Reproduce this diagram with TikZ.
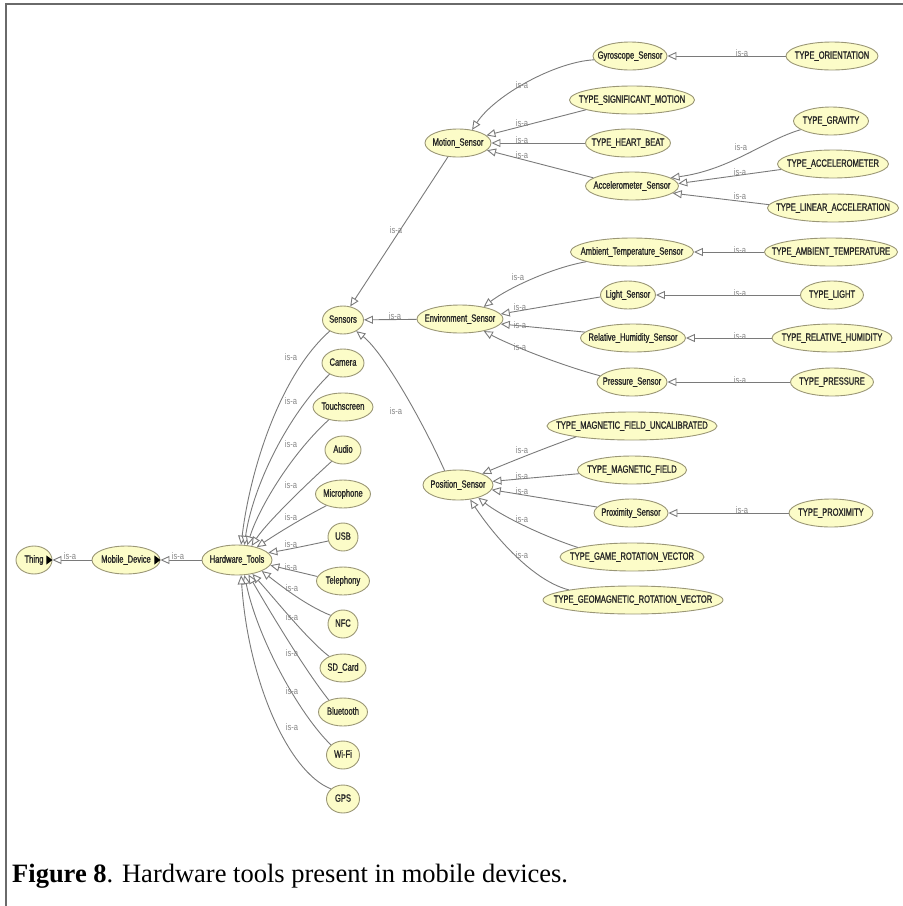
\documentclass[tikz,border=0pt]{standalone}
\usepackage{fontspec}
\usetikzlibrary{shapes.geometric,arrows.meta}
\setmainfont{Liberation Serif}
\newfontfamily\ndfont[FakeStretch=0.72,FakeBold=1.2]{Liberation Sans}
\newfontfamily\lbfont[FakeStretch=0.8]{Liberation Sans}
\definecolor{ndfill}{HTML}{FCFCC8}
\definecolor{ndline}{HTML}{9A9676}
\definecolor{edgec}{HTML}{7A7A7A}
\definecolor{lblc}{HTML}{858585}
\definecolor{framec}{HTML}{6A6A6A}
\tikzset{
  cls/.style={ellipse, draw=ndline, fill=ndfill, line width=0.9pt, inner sep=0pt,
    minimum height=28pt, text height=7.7pt, text depth=2.3pt,
    font=\ndfont\fontsize{10.5}{12}\selectfont, text=black!85},
  isa/.style={draw=edgec, line width=0.9pt,
    -{Triangle[open, length=9pt, width=8pt, fill=white]}},
  lbl/.style={font=\lbfont\fontsize{9.5}{10}\selectfont, text=lblc, inner sep=0pt},
}
% class node: name, centre, width, text
\newcommand\cnode[5][]{\node[cls, minimum width=#4pt, #1] (#2) at (#3) {\makebox[0pt]{#5}};}
\begin{document}
\begin{tikzpicture}[x=1pt, y=-1pt]
\useasboundingbox (0,0) rectangle (903,906);
% frame
\draw[framec, line width=2pt] (5.5,906) -- (5.5,4) -- (903,4);

% ---- classes ----
\cnode{thing}{34,560}{36}{Thing}
\cnode{mobile}{126,560}{68}{Mobile\_Device}
\cnode[minimum height=30pt]{ht}{237,560}{70}{Hardware\_Tools}

\cnode{sensors}{343,320}{41}{Sensors}
\cnode{camera}{343,363}{42}{Camera}
\cnode{touch}{343,407}{60}{Touchscreen}
\cnode{audio}{343,450}{36}{Audio}
\cnode{micro}{343,494}{55}{Microphone}
\cnode{usb}{343,537}{30}{USB}
\cnode{tel}{343,581}{53}{Telephony}
\cnode{nfc}{343,624}{30}{NFC}
\cnode{sd}{343,668}{46}{SD\_Card}
\cnode{bt}{343,712}{49}{Bluetooth}
\cnode{wifi}{343,755}{33}{Wi-Fi}
\cnode{gps}{343,799}{33}{GPS}

\cnode{motion}{458,143}{66}{Motion\_Sensor}
\cnode{env}{460,319}{86}{Environment\_Sensor}
\cnode[minimum height=30pt]{pos}{458,485}{70}{Position\_Sensor}

\cnode{gyro}{630,56}{74}{Gyroscope\_Sensor}
\cnode{sig}{632,100}{125}{TYPE\_SIGNIFICANT\_MOTION}
\cnode{heart}{628,143}{85}{TYPE\_HEART\_BEAT}
\cnode{accel}{632,186}{93}{Accelerometer\_Sensor}
\cnode{orient}{832,56}{92}{TYPE\_ORIENTATION}
\cnode{grav}{831,121}{75}{TYPE\_GRAVITY}
\cnode{accm}{833,164}{111}{TYPE\_ACCELEROMETER}
\cnode{lin}{833,208}{131}{TYPE\_LINEAR\_ACCELERATION}

\cnode{amb}{632,252}{123}{Ambient\_Temperature\_Sensor}
\cnode{tamb}{831,252}{133}{TYPE\_AMBIENT\_TEMPERATURE}
\cnode{light}{628,295}{55}{Light\_Sensor}
\cnode{tlight}{832,295}{63}{TYPE\_LIGHT}
\cnode{rh}{633,338}{105}{Relative\_Humidity\_Sensor}
\cnode{trh}{832,338}{120}{TYPE\_RELATIVE\_HUMIDITY}
\cnode{pres}{632,382}{70}{Pressure\_Sensor}
\cnode{tpres}{832,382}{83}{TYPE\_PRESSURE}

\cnode{muncal}{632,426}{170}{TYPE\_MAGNETIC\_FIELD\_UNCALIBRATED}
\cnode{mfield}{632,470}{109}{TYPE\_MAGNETIC\_FIELD}
\cnode{prox}{631,513}{74}{Proximity\_Sensor}
\cnode{tprox}{831,513}{84}{TYPE\_PROXIMITY}
\cnode{game}{632,557}{144}{TYPE\_GAME\_ROTATION\_VECTOR}
\cnode{geo}{633,600}{180}{TYPE\_GEOMAGNETIC\_ROTATION\_VECTOR}

% expand markers
\fill ([xshift=-6pt]thing.east) +(0,-4.5) -- +(0,4.5) -- (thing.east) -- cycle;
\fill ([xshift=-6pt]mobile.east) +(0,-4.5) -- +(0,4.5) -- (mobile.east) -- cycle;

% ---- is-a edges ----
\draw[isa] (mobile) -- (thing);
\node[lbl] (l1) at (70,556) {is-a};
\draw[isa] (ht) -- (mobile);
\node[lbl] (l2) at (178,556) {is-a};

% hardware tools
\draw[isa] (sensors.220) .. controls (280,375) and (250,470) .. (ht.75);
\node[lbl] (l3) at (291,357) {is-a};
\draw[isa] (camera.220) .. controls (285,418) and (252,490) .. (ht.64);
\node[lbl] (l4) at (291,401) {is-a};
\draw[isa] (touch.222) .. controls (290,455) and (258,510) .. (ht.55);
\node[lbl] (l5) at (291,444) {is-a};
\draw[isa] (audio.225) .. controls (300,490) and (265,525) .. (ht.44);
\node[lbl] (l6) at (291,485) {is-a};
\draw[isa] (micro.215) .. controls (295,522) and (272,537) .. (ht.33);
\node[lbl] (l7) at (291,517) {is-a};
\draw[isa] (usb.195) .. controls (310,545) and (285,550) .. (ht.13);
\node[lbl] (l8) at (291,544) {is-a};
\draw[isa] (tel.170) -- (ht.-9);
\node[lbl] (l9) at (291,567) {is-a};
\draw[isa] (nfc.145) .. controls (305,605) and (280,585) .. (ht.-24);
\node[lbl] (l10) at (292,588) {is-a};
\draw[isa] (sd.140) .. controls (308,640) and (280,605) .. (ht.-42);
\node[lbl] (l11) at (292,617) {is-a};
\draw[isa] (bt.140) .. controls (305,670) and (272,615) .. (ht.-52);
\node[lbl] (l12) at (292,653) {is-a};
\draw[isa] (wifi.140) .. controls (300,715) and (258,640) .. (ht.-64);
\node[lbl] (l13) at (292,691) {is-a};
\draw[isa] (gps.140) .. controls (288,772) and (248,680) .. (ht.-75);
\node[lbl] (l14) at (292,727) {is-a};

% sensors
\draw[isa] (motion.234) -- (sensors.62);
\node[lbl] (l15) at (396,230) {is-a};
\draw[isa] (env) -- (sensors);
\node[lbl] (l16) at (395,316) {is-a};
\draw[isa] (pos.133) .. controls (422,420) and (383,352) .. (sensors.-40);
\node[lbl] (l17) at (396,411) {is-a};

% motion sensor
\draw[isa] (gyro.186) .. controls (555,62) and (495,95) .. (motion.43);
\node[lbl] (l18) at (522,85) {is-a};
\draw[isa] (sig.192) -- (motion.15);
\node[lbl] (l19) at (522,123) {is-a};
\draw[isa] (heart) -- (motion);
\node[lbl] (l20) at (522,140) {is-a};
\draw[isa] (accel.168) -- (motion.-14);
\node[lbl] (l21) at (522,155) {is-a};
\draw[isa] (orient) -- (gyro);
\node[lbl] (l22) at (742,53) {is-a};
\draw[isa] (grav.196) .. controls (765,140) and (730,170) .. (accel.12);
\node[lbl] (l23) at (741,147) {is-a};
\draw[isa] (accm.186) -- (accel.3);
\node[lbl] (l24) at (740,172) {is-a};
\draw[isa] (lin.177) -- (accel.-10);
\node[lbl] (l25) at (740,196) {is-a};

% environment sensor
\draw[isa] (amb.192) .. controls (550,268) and (505,290) .. (env.27);
\node[lbl] (l26) at (518,277) {is-a};
\draw[isa] (light.184) -- (env.7);
\node[lbl] (l27) at (520,307) {is-a};
\draw[isa] (rh.173) -- (env.-7);
\node[lbl] (l28) at (520,325) {is-a};
\draw[isa] (pres.169) .. controls (560,365) and (510,345) .. (env.-27);
\node[lbl] (l29) at (520,347) {is-a};
\draw[isa] (tamb) -- (amb);
\node[lbl] (l30) at (740,250) {is-a};
\draw[isa] (tlight) -- (light);
\node[lbl] (l31) at (740,293) {is-a};
\draw[isa] (trh) -- (rh);
\node[lbl] (l32) at (740,336) {is-a};
\draw[isa] (tpres) -- (pres);
\node[lbl] (l33) at (740,380) {is-a};

% position sensor
\draw[isa] (muncal.191) .. controls (545,448) and (510,462) .. (pos.25);
\node[lbl] (l34) at (522,450) {is-a};
\draw[isa] (mfield.184) -- (pos.6);
\node[lbl] (l35) at (522,476) {is-a};
\draw[isa] (prox.170) -- (pos.-8);
\node[lbl] (l36) at (522,491) {is-a};
\draw[isa] (game.170) .. controls (540,535) and (500,515) .. (pos.-32);
\node[lbl] (l37) at (522,519) {is-a};
\draw[isa] (geo.171) .. controls (530,580) and (490,530) .. (pos.-50);
\node[lbl] (l38) at (522,555) {is-a};
\draw[isa] (tprox) -- (prox);
\node[lbl] (l39) at (742,510) {is-a};

% caption
\node[anchor=base west, inner sep=0pt, font=\fontsize{26.5}{30}\selectfont] (cap) at (12,882)
  {\textbf{Figure 8}. Hardware tools present in mobile devices.};
\end{tikzpicture}
\end{document}
